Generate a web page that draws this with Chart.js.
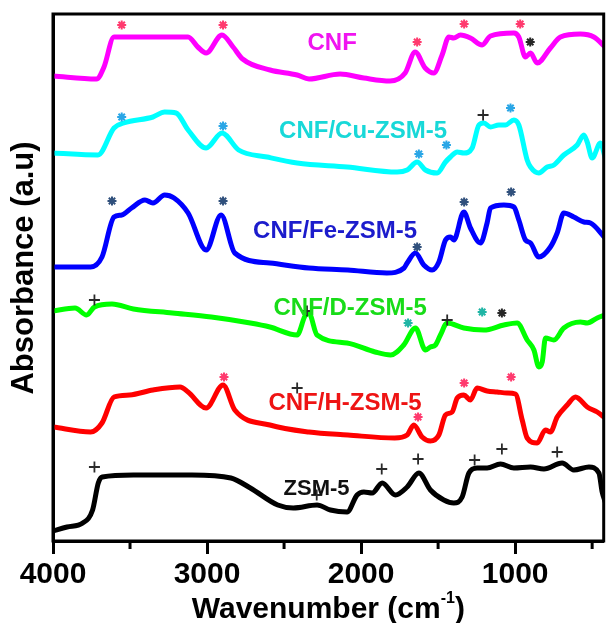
<!DOCTYPE html>
<html>
<head>
<meta charset="utf-8">
<script src="https://cdn.jsdelivr.net/npm/chart.js@4/dist/chart.umd.min.js"></script>
<style>
  html, body { margin: 0; padding: 0; background: #ffffff; }
  #c { display: block; }
</style>
</head>
<body>
<canvas id="c" width="611" height="623"></canvas>
<script>
// ---------- DATA (wavenumber in cm-1, absorbance in arbitrary stacked units) ----------
const wnCNF = [4000, 3718, 3669, 3604, 3123, 3060, 3006, 2903, 2831, 2769, 2591, 2415, 2338, 2136, 1982, 1812, 1714, 1649, 1584, 1528, 1474, 1430, 1398, 1355, 1290, 1214, 1160, 1008, 976, 933, 900, 857, 771, 706, 576, 489, 415];
const abCNF = [467, 464, 476, 506, 506, 496, 490, 508, 496, 484, 473, 468, 464, 469, 465, 462, 470, 491, 475, 470, 488, 506, 505, 508, 505, 498, 507, 510, 506, 486, 490, 480, 495, 506, 509, 506, 496];

const wnCu = [4000, 3708, 3604, 3541, 3351, 3275, 3201, 3123, 3006, 2903, 2795, 2610, 2415, 2091, 1766, 1701, 1636, 1582, 1506, 1452, 1420, 1376, 1333, 1279, 1235, 1203, 1160, 1106, 1063, 1008, 976, 922, 900, 846, 792, 748, 684, 597, 554, 532, 500, 446, 415];
const abCu = [390, 388, 415, 420, 426, 431, 430, 413, 395, 410, 393, 386, 380, 376, 371, 373, 381, 373, 370, 381, 386, 391, 390, 395, 418, 420, 416, 418, 418, 423, 418, 383, 376, 370, 376, 378, 388, 398, 408, 401, 385, 400, 385];

const wnFe = [4000, 3756, 3682, 3604, 3554, 3490, 3403, 3351, 3275, 3214, 3123, 3006, 2909, 2820, 2592, 2339, 2086, 1833, 1721, 1701, 1647, 1593, 1539, 1495, 1452, 1420, 1398, 1333, 1290, 1225, 1182, 1160, 1073, 1008, 976, 933, 900, 846, 771, 727, 684, 619, 554, 511, 415];
const abFe = [276, 276, 286, 326, 328, 335, 343, 340, 348, 345, 330, 293, 328, 290, 280, 275, 273, 270, 275, 280, 290, 278, 273, 281, 303, 306, 303, 331, 315, 300, 320, 335, 338, 336, 323, 303, 300, 286, 296, 310, 330, 326, 321, 320, 305];

const wnD = [4000, 3857, 3782, 3731, 3617, 3478, 3225, 2972, 2719, 2592, 2415, 2364, 2339, 2286, 2091, 1909, 1808, 1723, 1647, 1582, 1550, 1517, 1485, 1441, 1333, 1203, 1073, 987, 922, 878, 846, 824, 803, 748, 684, 576, 532, 467, 415];
const abD = [232, 235, 228, 236, 239, 234, 230, 226, 220, 216, 208, 227, 230, 208, 200, 191, 188, 198, 215, 193, 196, 198, 208, 220, 215, 213, 218, 220, 203, 193, 176, 181, 205, 203, 215, 221, 220, 225, 228];

const wnH = [4000, 3756, 3682, 3604, 3503, 3351, 3175, 3123, 3006, 2896, 2820, 2592, 2339, 2086, 1782, 1701, 1658, 1604, 1550, 1495, 1452, 1409, 1376, 1333, 1290, 1247, 1182, 1117, 1052, 998, 954, 922, 857, 803, 771, 727, 662, 608, 532, 467, 415];
const abH = [116, 111, 120, 146, 148, 153, 156, 151, 135, 158, 133, 118, 111, 108, 105, 108, 118, 106, 102, 108, 128, 131, 145, 148, 143, 155, 152, 151, 150, 149, 123, 105, 100, 113, 111, 126, 138, 146, 136, 131, 125];

const wnZSM = [4000, 3909, 3807, 3743, 3706, 3680, 3478, 3098, 2845, 2719, 2541, 2440, 2286, 2199, 2091, 2026, 1982, 1928, 1863, 1777, 1701, 1625, 1550, 1463, 1398, 1344, 1300, 1247, 1182, 1095, 1008, 900, 813, 695, 619, 521, 456, 435, 415];
const abZSM = [12, 16, 20, 33, 60, 66, 68, 68, 65, 55, 38, 35, 38, 33, 31, 48, 51, 50, 60, 48, 56, 70, 53, 43, 40, 46, 70, 75, 75, 79, 75, 76, 74, 80, 73, 76, 70, 51, 41];

// peak markers [wavenumber, absorbance]
const starsPink = [[3554, 518], [2896, 518], [1636, 501], [1331, 519], [967, 519], [2890, 166], [1331, 160], [1026, 166], [1630, 126]];
const starsDark = [[902, 501], [1086, 230]];
const starsCu = [[3554, 426], [2896, 417], [1625, 389], [1446, 398], [1030, 435]];
const starsFe = [[3617, 342], [2896, 342], [1636, 296], [1331, 341], [1026, 351]];
const starsTeal = [[1695, 220], [1214, 231]];
const crosses = [[1208, 428], [3731, 243], [2351, 232], [1441, 223], [2415, 155], [3731, 76], [2288, 48], [1866, 74], [1630, 84], [1263, 83], [1086, 94], [727, 91]];

// series labels
const seriesNames = ['CNF', 'CNF/Cu-ZSM-5', 'CNF/Fe-ZSM-5', 'CNF/D-ZSM-5', 'CNF/H-ZSM-5', 'ZSM-5'];
const labelPos = [[2188, 500], [1987, 412], [2169, 312], [2071, 235], [2104, 140], [2289, 54]];

const xTicks = [4000, 3000, 2000, 1000];
const xMinorTicks = [3500, 2500, 1500, 500];
const xTitle = 'Wavenumber (cm';
const xTitleSup = '-1';
const yTitle = 'Absorbance (a.u)';

// ---------- STYLE ----------
const FONT = '"Liberation Sans", Arial, Helvetica, sans-serif';
const lineColors = ['#ff00ff', '#00ffff', '#0000ff', '#00ff00', '#ff0000', '#000000'];
const textColors = ['#f014f0', '#18d8d8', '#1c1ccc', '#18dc18', '#ee1414', '#111111'];
const textSizes = [24, 24, 24, 24, 24, 22];

const pairs = (xs, ys) => xs.map((x, i) => ({ x: x, y: ys[i] }));
const pts = arr => arr.map(p => ({ x: p[0], y: p[1] }));

const seriesX = [wnCNF, wnCu, wnFe, wnD, wnH, wnZSM];
const seriesY = [abCNF, abCu, abFe, abD, abH, abZSM];

function markerSet(data, style, color, radius, bw) {
  return {
    data: pts(data), showLine: false, pointStyle: style,
    pointRadius: radius, pointHoverRadius: radius,
    pointBorderColor: color, pointBackgroundColor: color,
    pointBorderWidth: bw, borderColor: color, backgroundColor: color
  };
}

const datasets = [
  markerSet(starsPink, 'star', '#ff3a6e', 4.5, 2),
  markerSet(starsDark, 'star', '#262626', 4.5, 2),
  markerSet(starsCu, 'star', '#2aa6e6', 4.5, 2),
  markerSet(starsFe, 'star', '#30507c', 4.5, 2),
  markerSet(starsTeal, 'star', '#1fb5a5', 4.5, 2),
  markerSet(crosses, 'cross', '#2a2a2a', 5.5, 1.8)
];
seriesX.forEach((xs, i) => {
  datasets.push({
    label: seriesNames[i],
    data: pairs(xs, seriesY[i]),
    borderColor: lineColors[i],
    backgroundColor: lineColors[i],
    borderWidth: 5,
    pointRadius: 0,
    cubicInterpolationMode: 'monotone',
    fill: false,
    borderJoinStyle: 'round',
    borderCapStyle: 'round'
  });
});

const decorPlugin = {
  id: 'decor',
  afterDatasetsDraw(chart) {
    const ctx = chart.ctx;
    const xs = chart.scales.x, ys = chart.scales.y;
    const a = chart.chartArea;
    ctx.save();
    // series labels
    ctx.textAlign = 'center';
    ctx.textBaseline = 'middle';
    labelPos.forEach((p, i) => {
      ctx.font = 'bold ' + textSizes[i] + 'px ' + FONT;
      ctx.fillStyle = textColors[i];
      ctx.fillText(seriesNames[i], xs.getPixelForValue(p[0]), ys.getPixelForValue(p[1]));
    });
    // frame
    ctx.strokeStyle = '#000';
    ctx.lineWidth = 3;
    ctx.strokeRect(a.left, a.top, a.right - a.left, a.bottom - a.top);
    // minor ticks
    xMinorTicks.forEach(v => {
      const px = xs.getPixelForValue(v);
      ctx.beginPath();
      ctx.moveTo(px, a.bottom);
      ctx.lineTo(px, a.bottom + 8);
      ctx.stroke();
    });
    // x title with superscript
    ctx.fillStyle = '#000';
    ctx.textBaseline = 'alphabetic';
    ctx.textAlign = 'left';
    const mainFont = 'bold 30px ' + FONT, supFont = 'bold 16px ' + FONT;
    ctx.font = mainFont;
    const w1 = ctx.measureText(xTitle).width;
    const w3 = ctx.measureText(')').width;
    ctx.font = supFont;
    const w2 = ctx.measureText(xTitleSup).width;
    const total = w1 + w2 + w3;
    const x0 = (a.left + a.right) / 2 - total / 2;
    const base = 618;
    ctx.font = mainFont;
    ctx.fillText(xTitle, x0, base);
    ctx.font = supFont;
    ctx.fillText(xTitleSup, x0 + w1, base - 15);
    ctx.font = mainFont;
    ctx.fillText(')', x0 + w1 + w2, base);
    // y title
    ctx.translate(24, 268);
    ctx.rotate(-Math.PI / 2);
    ctx.textAlign = 'center';
    ctx.textBaseline = 'middle';
    ctx.font = 'bold 31px ' + FONT;
    ctx.fillText(yTitle, 0, 0);
    ctx.restore();
  }
};

new Chart(document.getElementById('c'), {
  type: 'line',
  data: { datasets: datasets },
  options: {
    responsive: false,
    animation: false,
    devicePixelRatio: 1,
    layout: { padding: { top: 14, right: 4, left: 0, bottom: 0 } },
    plugins: { legend: { display: false }, tooltip: { enabled: false } },
    scales: {
      x: {
        type: 'linear',
        reverse: true,
        min: 425,
        max: 4000,
        afterBuildTicks: s => { s.ticks = xTicks.map(v => ({ value: v })); },
        afterFit: s => { s.height = 82; },
        ticks: {
          autoSkip: false, maxRotation: 0, padding: 3, color: '#000',
          font: { family: FONT, size: 30, weight: 'bold' },
          callback: v => String(v)
        },
        grid: { drawOnChartArea: false, drawTicks: true, tickLength: 13, tickWidth: 3, tickColor: '#000' },
        border: { display: true, color: '#000', width: 3 }
      },
      y: {
        type: 'linear',
        min: 2,
        max: 529,
        afterFit: s => { s.width = 53; },
        ticks: { display: false },
        grid: { display: false, drawTicks: false },
        border: { display: true, color: '#000', width: 3 }
      }
    }
  },
  plugins: [decorPlugin]
});
</script>
</body>
</html>
